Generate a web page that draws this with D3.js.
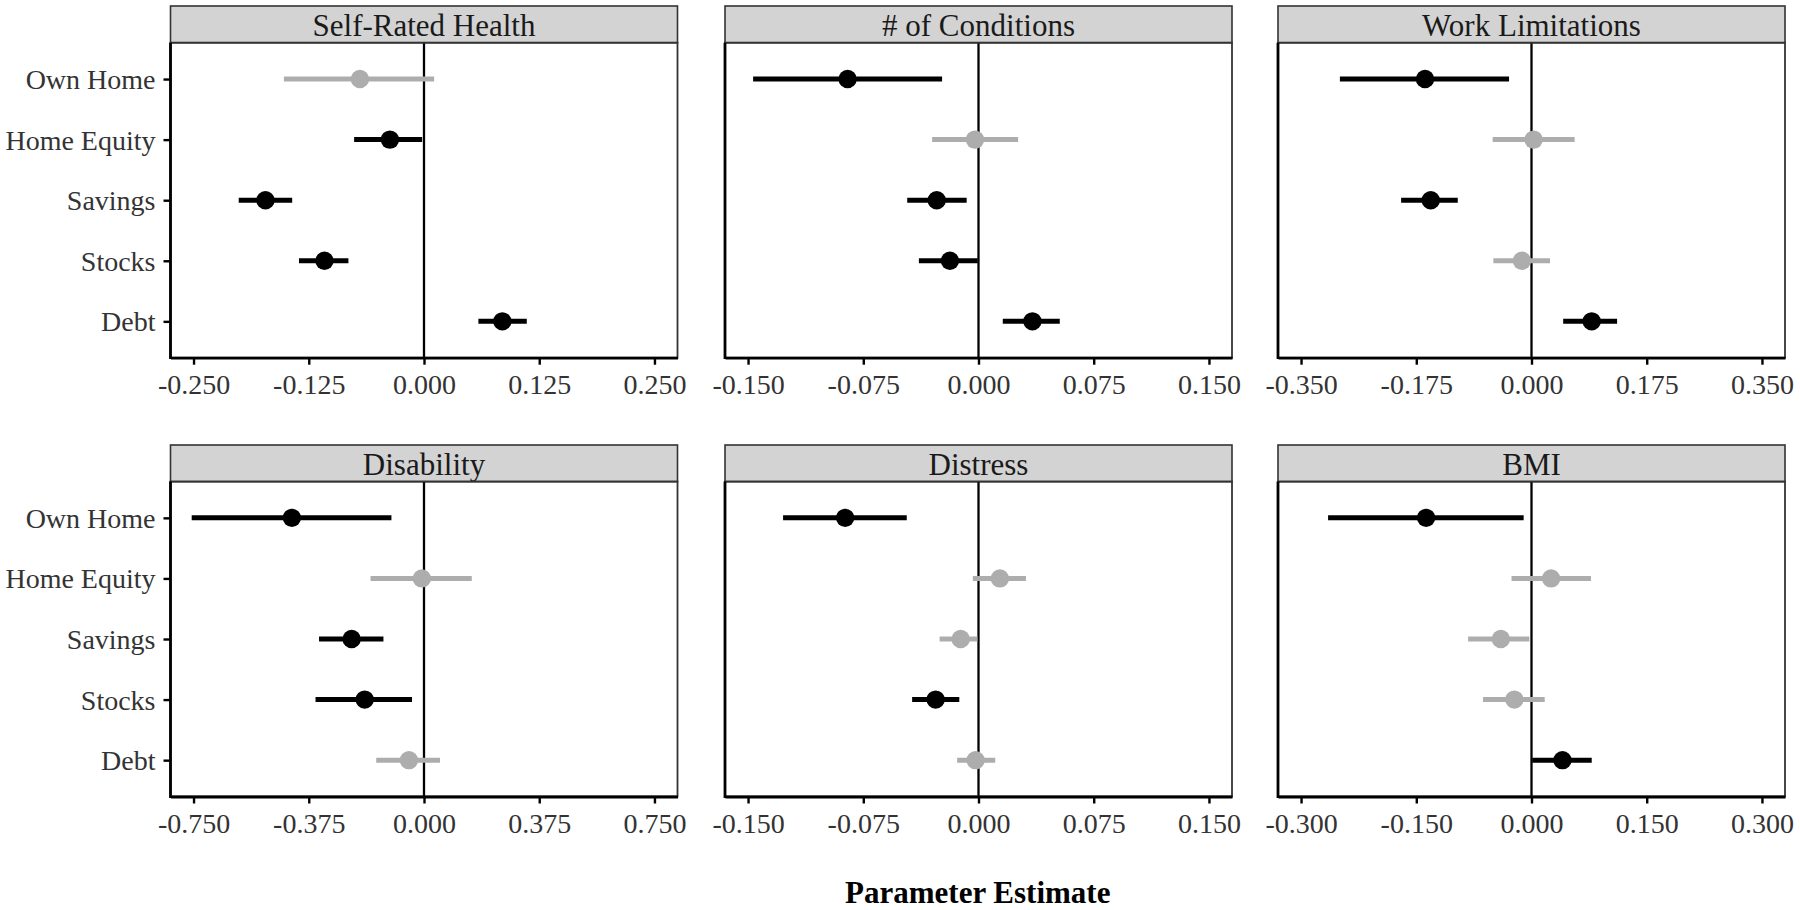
<!DOCTYPE html>
<html>
<head>
<meta charset="utf-8">
<script src="https://cdn.jsdelivr.net/npm/d3@7/dist/d3.min.js"></script>
<style>
  html, body { margin: 0; padding: 0; background: #fff; }
  svg { display: block; }
</style>
</head>
<body>
<svg id="chart" width="1800" height="910"></svg>
<script>
// ---------------- DATA ----------------
const categories = ["Own Home", "Home Equity", "Savings", "Stocks", "Debt"];
const panels = ["Self-Rated Health", "# of Conditions", "Work Limitations", "Disability", "Distress", "BMI"];

// axis limits per panel (ticks at -L, -L/2, 0, L/2, L)
const axisLimits = [0.25, 0.15, 0.35, 0.75, 0.15, 0.30];
const tickLabels = [
  ["-0.250", "-0.125", "0.000", "0.125", "0.250"],
  ["-0.150", "-0.075", "0.000", "0.075", "0.150"],
  ["-0.350", "-0.175", "0.000", "0.175", "0.350"],
  ["-0.750", "-0.375", "0.000", "0.375", "0.750"],
  ["-0.150", "-0.075", "0.000", "0.075", "0.150"],
  ["-0.300", "-0.150", "0.000", "0.150", "0.300"]
];

// point estimates (rows: panels; columns: categories)
const estimates = [
  [-0.0695, -0.037, -0.172, -0.108, 0.085],
  [-0.0852, -0.0023, -0.0272, -0.0186, 0.0351],
  [-0.1617, 0.0032, -0.153, -0.0146, 0.0914],
  [-0.430, -0.007, -0.2355, -0.193, -0.049],
  [-0.0868, 0.0139, -0.0116, -0.0279, -0.0019],
  [-0.1372, 0.0255, -0.0399, -0.0223, 0.0403]
];
const lowerCI = [
  [-0.152, -0.0758, -0.201, -0.1356, 0.059],
  [-0.1467, -0.0302, -0.0464, -0.0388, 0.0158],
  [-0.291, -0.059, -0.198, -0.0579, 0.0481],
  [-0.756, -0.174, -0.3416, -0.353, -0.1555],
  [-0.1272, -0.0037, -0.0253, -0.0432, -0.0139],
  [-0.2648, -0.026, -0.0825, -0.0631, 0.0009]
];
const upperCI = [
  [0.011, -0.002, -0.143, -0.082, 0.1115],
  [-0.0237, 0.0258, -0.0077, -0.0005, 0.0529],
  [-0.0341, 0.0655, -0.112, 0.0281, 0.130],
  [-0.106, 0.1555, -0.132, -0.039, 0.052],
  [-0.0467, 0.0309, -0.0007, -0.0125, 0.0109],
  [-0.0102, 0.0774, -0.0028, 0.0172, 0.0784]
];
// 1 = significant (black), 0 = not significant (grey)
const significant = [
  [0, 1, 1, 1, 1],
  [1, 0, 1, 1, 1],
  [1, 0, 1, 0, 1],
  [1, 0, 1, 1, 0],
  [1, 0, 0, 1, 0],
  [1, 0, 0, 0, 1]
];
const xAxisTitle = "Parameter Estimate";

// ---------------- LAYOUT ----------------
const FONT = "'Liberation Serif', 'Times New Roman', Times, serif";
const colX = [170.5, 725, 1278];
const panelW = 507;
const stripTop = [6, 445];
const stripH = 36.7;
const panelTop = [42.7, 481.5];
const panelH = 315;
const sigColor = "#000000";
const nsColor = "#adadad";

const svg = d3.select("#chart");

panels.forEach((name, i) => {
  const col = i % 3, row = Math.floor(i / 3);
  const x0 = colX[col], y0 = panelTop[row];
  const L = axisLimits[i];

  const x = d3.scaleLinear().domain([-1.1 * L, 1.1 * L]).range([x0, x0 + panelW]);
  const y = d3.scalePoint().domain(categories).range([y0, y0 + panelH]).padding(0.6);

  const g = svg.append("g");

  // panel background
  g.append("rect").attr("x", x0).attr("y", y0).attr("width", panelW).attr("height", panelH)
    .attr("fill", "#fff");

  // strip
  g.append("rect").attr("x", x0).attr("y", stripTop[row]).attr("width", panelW).attr("height", stripH)
    .attr("fill", "#d3d3d3").attr("stroke", "#333").attr("stroke-width", 1.6);
  g.append("text").attr("x", x0 + panelW / 2).attr("y", stripTop[row] + stripH / 2)
    .attr("dy", "0.39em").attr("text-anchor", "middle")
    .attr("font-family", FONT).attr("font-size", 31).attr("fill", "#1a1a1a")
    .text(name);

  // zero reference line
  g.append("line").attr("x1", x(0)).attr("x2", x(0)).attr("y1", y0).attr("y2", y0 + panelH)
    .attr("stroke", "#000").attr("stroke-width", 2.3);

  // rows of data
  const rows = categories.map((c, j) => ({
    cat: c, est: estimates[i][j], lo: lowerCI[i][j], hi: upperCI[i][j], sig: significant[i][j]
  }));

  g.selectAll("line.ci").data(rows).enter().append("line")
    .attr("class", "ci")
    .attr("x1", d => x(d.lo)).attr("x2", d => x(d.hi))
    .attr("y1", d => y(d.cat)).attr("y2", d => y(d.cat))
    .attr("stroke", d => d.sig ? sigColor : nsColor)
    .attr("stroke-width", 5);

  g.selectAll("circle.pt").data(rows).enter().append("circle")
    .attr("class", "pt")
    .attr("cx", d => x(d.est)).attr("cy", d => y(d.cat)).attr("r", 9.2)
    .attr("fill", d => d.sig ? sigColor : nsColor);

  // panel border
  g.append("rect").attr("x", x0).attr("y", y0).attr("width", panelW).attr("height", panelH)
    .attr("fill", "none").attr("stroke", "#333").attr("stroke-width", 1.8);

  // x axis
  const tickVals = [-L, -L / 2, 0, L / 2, L];
  const xAxis = d3.axisBottom(x).tickValues(tickVals)
    .tickFormat((d, k) => tickLabels[i][k]).tickSize(7).tickSizeOuter(0);
  const gx = g.append("g").attr("transform", `translate(0,${y0 + panelH})`).call(xAxis);
  gx.select(".domain").attr("stroke", "#000").attr("stroke-width", 2.8);
  gx.selectAll(".tick line").attr("stroke", "#000").attr("stroke-width", 2.4);
  gx.selectAll(".tick text").attr("y", 36.8).attr("dy", 0)
    .attr("font-family", FONT).attr("font-size", 28).attr("fill", "#333");

  // left axis line
  g.append("line").attr("x1", x0).attr("x2", x0).attr("y1", y0).attr("y2", y0 + panelH + 1.4)
    .attr("stroke", "#000").attr("stroke-width", 2.8);

  // y axis (first column only)
  if (col === 0) {
    const yAxis = d3.axisLeft(y).tickSize(7).tickPadding(8).tickSizeOuter(0);
    const gy = g.append("g").attr("transform", `translate(${x0},0)`).call(yAxis);
    gy.select(".domain").remove();
    gy.selectAll(".tick line").attr("stroke", "#000").attr("stroke-width", 2.4);
    gy.selectAll(".tick text").attr("dy", "0.34em")
      .attr("font-family", FONT).attr("font-size", 28).attr("fill", "#333");
  }
});

// global x axis title
svg.append("text")
  .attr("x", (colX[0] + colX[2] + panelW) / 2).attr("y", 903)
  .attr("text-anchor", "middle")
  .attr("font-family", FONT).attr("font-size", 31).attr("font-weight", "bold").attr("fill", "#000")
  .text(xAxisTitle);
</script>
</body>
</html>
